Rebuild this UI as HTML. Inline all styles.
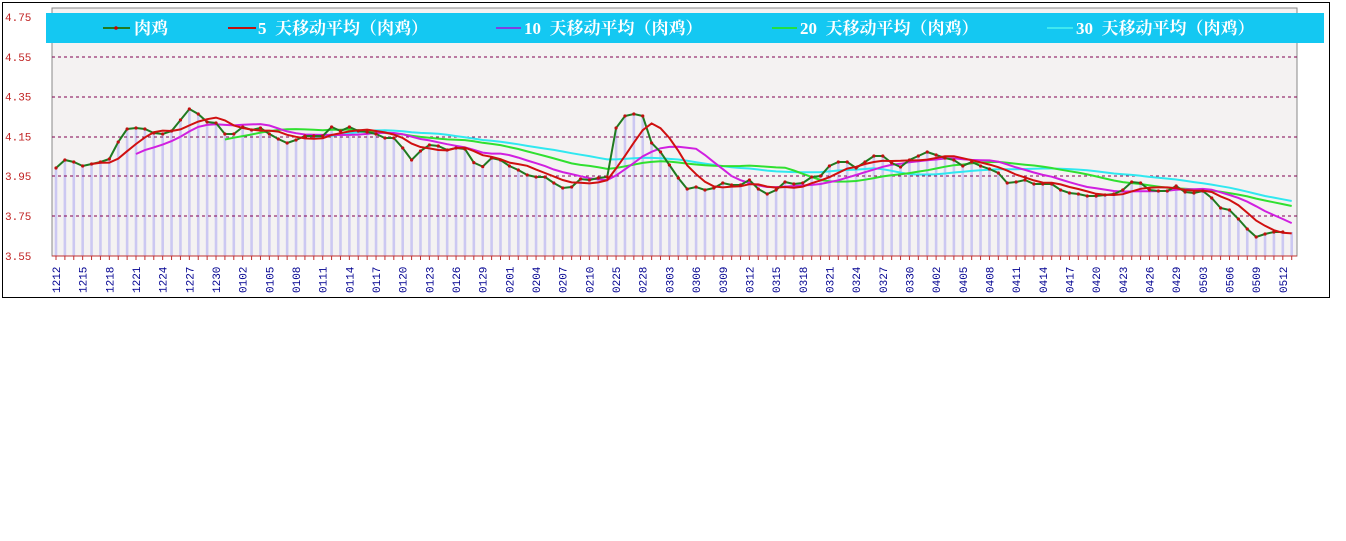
<!DOCTYPE html>
<html><head><meta charset="utf-8"><style>
body{margin:0;background:#fff;width:1346px;height:541px;overflow:hidden}
svg{position:absolute;left:0;top:0}
</style></head><body>
<svg id="s" width="1346" height="541" xmlns="http://www.w3.org/2000/svg" font-family="'Liberation Serif','Noto Serif CJK SC',serif">
<rect x="2.5" y="2.5" width="1327" height="295" fill="#fff" stroke="#000"/>
<rect x="52" y="8" width="1245" height="248" fill="#f4f2f2" stroke="#888"/>
<g id="g"></g>
<rect x="46" y="13" width="1278" height="30" fill="#14c8f2"/>
<g font-size="17" font-weight="bold" fill="#fff">
<line x1="103" y1="28" x2="130" y2="28" stroke="#1f7a1f" stroke-width="2"/><circle cx="116" cy="28" r="1.8" fill="#c00"/>
<text x="134" y="34">肉鸡</text>
<line x1="228" y1="28" x2="256" y2="28" stroke="#c01010" stroke-width="2"/><text x="258" y="34">5&#160;&#160;天移动平均（肉鸡）</text>
<line x1="496" y1="28" x2="521" y2="28" stroke="#8040e0" stroke-width="2"/><text x="524" y="34">10&#160;&#160;天移动平均（肉鸡）</text>
<line x1="772" y1="28" x2="797" y2="28" stroke="#20e040" stroke-width="2"/><text x="800" y="34">20&#160;&#160;天移动平均（肉鸡）</text>
<line x1="1047" y1="28" x2="1073" y2="28" stroke="#40e8f0" stroke-width="2"/><text x="1076" y="34">30&#160;&#160;天移动平均（肉鸡）</text>
</g>
</svg>
<script>
var d=[3.99,4.03,4.02,4.0,4.01,4.02,4.035,4.12,4.185,4.19,4.185,4.165,4.16,4.175,4.23,4.285,4.26,4.22,4.215,4.16,4.16,4.195,4.18,4.19,4.16,4.135,4.115,4.13,4.15,4.15,4.15,4.195,4.175,4.195,4.175,4.17,4.16,4.14,4.14,4.09,4.03,4.075,4.105,4.1,4.08,4.09,4.085,4.017,3.997,4.04,4.03,4.0,3.98,3.955,3.945,3.945,3.915,3.89,3.895,3.935,3.93,3.94,3.945,4.19,4.25,4.26,4.25,4.115,4.07,4.005,3.94,3.885,3.895,3.88,3.89,3.915,3.905,3.905,3.93,3.885,3.86,3.88,3.92,3.91,3.915,3.945,3.95,4.0,4.02,4.02,3.99,4.02,4.05,4.05,4.015,3.995,4.03,4.05,4.07,4.055,4.04,4.03,4.0,4.02,4.0,3.985,3.965,3.915,3.92,3.93,3.91,3.91,3.91,3.88,3.865,3.86,3.85,3.85,3.855,3.86,3.88,3.92,3.915,3.88,3.875,3.875,3.9,3.87,3.865,3.875,3.84,3.79,3.78,3.735,3.685,3.645,3.66,3.67,3.67,3.67];
var N=d.length;
function X(i){return 56+i*8.89}function Y(v){return 256-(v-3.55)*200}
var h='';
for(var i=0;i<N;i++){var x=X(i);if(x>1295)break;h+='<rect x="'+(x-1.3)+'" y="'+Y(d[i])+'" width="2.6" height="'+(256-Y(d[i]))+'" fill="#ccc8f2"/>';}
[57,97,137,176,216].forEach(function(y){h+='<line x1="52" y1="'+y+'" x2="1297" y2="'+y+'" stroke="#800050" stroke-dasharray="3,3"/>';});
h+='<line x1="52" y1="256" x2="1297" y2="256" stroke="#c03030"/>';
for(var i=0;i<N;i++){var x=X(i);if(x>1297)break;h+='<line x1="'+x+'" y1="256" x2="'+x+'" y2="260" stroke="#c03030"/>';}
function ma(n,c,w){var p='';for(var i=n-1;i<N;i++){var x=X(i);if(x>1294)break;var s=0;for(var k=i-n+1;k<=i;k++)s+=d[k];p+=(p?'L':'M')+x.toFixed(1)+','+Y(s/n).toFixed(1);}h+='<path d="'+p+'" fill="none" stroke="'+c+'" stroke-width="'+w+'"/>';}
ma(30,'#30e8f0',2);ma(20,'#30e030',2);ma(10,'#d020e0',2);
var p='';for(var i=0;i<N-1;i++){var x=X(i);p+=(p?'L':'M')+x.toFixed(1)+','+Y(d[i]).toFixed(1);}
h+='<path d="'+p+'" fill="none" stroke="#207a20" stroke-width="2"/>';
ma(5,'#d01010',2);
for(var i=0;i<N-1;i++){var x=X(i);h+='<circle cx="'+x+'" cy="'+Y(d[i])+'" r="1.6" fill="#c01010"/>';}
var yl=['4.75','4.55','4.35','4.15','3.95','3.75','3.55'];
yl.forEach(function(t,k){h+='<text x="5" y="'+(21+k*39.8)+'" font-family="Liberation Mono,monospace" font-size="11" fill="#c02020">'+t+'</text>';});
var L='1212 1215 1218 1221 1224 1227 1230 0102 0105 0108 0111 0114 0117 0120 0123 0126 0129 0201 0204 0207 0210 0225 0228 0303 0306 0309 0312 0315 0318 0321 0324 0327 0330 0402 0405 0408 0411 0414 0417 0420 0423 0426 0429 0503 0506 0509 0512'.split(' ');
L.forEach(function(t,k){var x=X(k*3)+4;h+='<text transform="translate('+x+',293) rotate(-90)" font-family="Liberation Mono,monospace" font-size="11" fill="#000090">'+t+'</text>';});
document.getElementById('g').innerHTML=h;
</script>
</body></html>
